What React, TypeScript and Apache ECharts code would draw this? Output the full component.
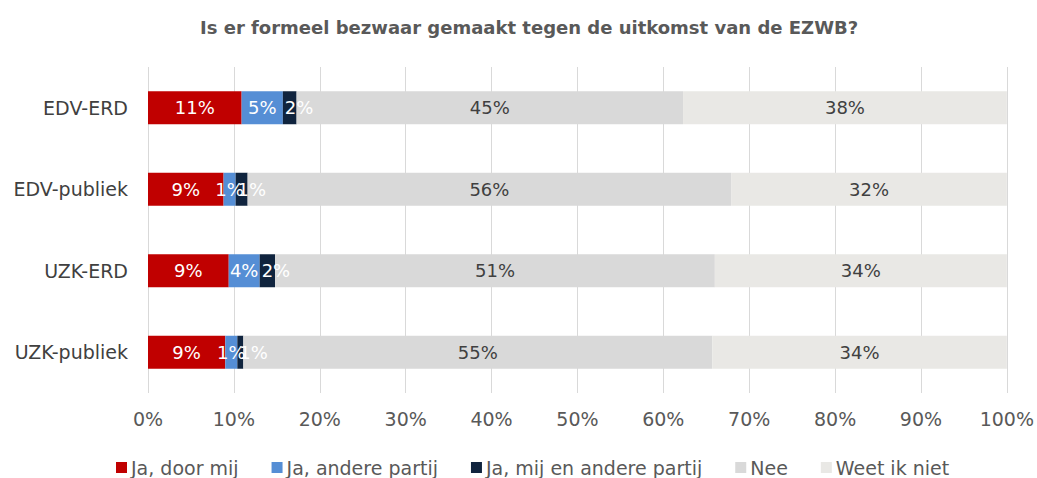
import React, { useEffect, useRef } from "react";
import * as echarts from "echarts";

const categories = ["EDV-ERD", "EDV-publiek", "UZK-ERD", "UZK-publiek"];
const seriesNames = ["Ja, door mij", "Ja, andere partij", "Ja, mij en andere partij", "Nee", "Weet ik niet"];
const jaDoorMij = [10.9, 8.8, 9.4, 9.0];
const jaAnderePartij = [4.8, 1.4, 3.6, 1.4];
const jaMijEnAndere = [1.6, 1.4, 1.8, 0.7];
const nee = [45.0, 56.3, 51.2, 54.6];
const weetIkNiet = [37.7, 32.1, 34.0, 34.3];
const xTicks = [0, 10, 20, 30, 40, 50, 60, 70, 80, 90, 100];

const colors = ["#C00000", "#558ED5", "#10243E", "#D9D9D9", "#E9E8E5"];
const labelColors = ["#FFFFFF", "#FFFFFF", "#FFFFFF", "#404040", "#404040"];
const FONT = "DejaVu Sans";

export default function App() {
  const ref = useRef<HTMLDivElement>(null);
  useEffect(() => {
    if (!ref.current) return;
    const chart = echarts.init(ref.current, undefined, { renderer: "svg" });
    const values = [jaDoorMij, jaAnderePartij, jaMijEnAndere, nee, weetIkNiet];
    chart.setOption({
      animation: false,
      textStyle: { fontFamily: FONT },
      title: {
        text: "Is er formeel bezwaar gemaakt tegen de uitkomst van de EZWB?",
        left: 200,
        top: 18,
        padding: 0,
        textStyle: { fontFamily: FONT, fontSize: 18, fontWeight: "bold", color: "#595959" },
      },
      legend: {
        left: 116,
        top: 458,
        padding: 0,
        itemWidth: 11,
        itemHeight: 11,
        itemGap: 33,
        icon: "rect",
        textStyle: { fontFamily: FONT, fontSize: 19, color: "#595959", padding: [0, 0, 0, -1] },
        data: seriesNames,
      },
      grid: { left: 148, right: 27, top: 67, bottom: 85, containLabel: false },
      xAxis: {
        type: "value",
        min: xTicks[0],
        max: xTicks[xTicks.length - 1],
        interval: 10,
        axisLine: { show: false },
        axisTick: { show: false },
        splitLine: { show: true, lineStyle: { color: "#D9D9D9", width: 1 } },
        axisLabel: { formatter: "{value}%", fontFamily: FONT, fontSize: 19, color: "#595959", margin: 16 },
      },
      yAxis: {
        type: "category",
        data: categories,
        inverse: true,
        axisLine: { show: false },
        axisTick: { show: false },
        axisLabel: { fontFamily: FONT, fontSize: 19, color: "#404040", margin: 20 },
      },
      series: seriesNames.map((name, i) => ({
        name,
        type: "bar",
        stack: "total",
        barWidth: 33,
        data: values[i],
        itemStyle: { color: colors[i] },
        label: {
          show: true,
          position: i === 2 ? "insideLeft" : "inside",
          distance: i === 2 ? 2 : 5,
          fontFamily: FONT,
          fontSize: 18,
          color: labelColors[i],
          formatter: (p: any) => Math.round(p.value) + "%",
        },
      })),
    });
    return () => chart.dispose();
  }, []);
  return (
    <div
      ref={ref}
      style={{ position: "fixed", left: 0, top: 0, width: 1037, height: 478, background: "#fff" }}
    />
  );
}
